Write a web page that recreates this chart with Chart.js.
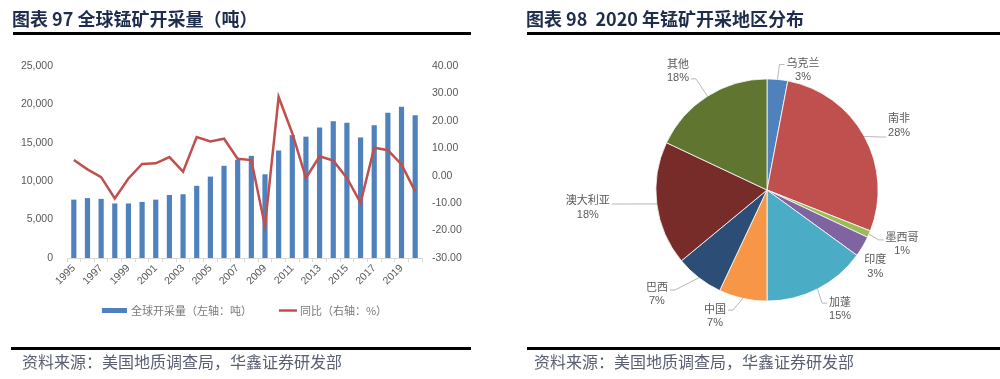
<!DOCTYPE html>
<html><head><meta charset="utf-8">
<script src="https://cdn.jsdelivr.net/npm/chart.js@4.4.1/dist/chart.umd.min.js"></script>
<style>
html,body{margin:0;padding:0;background:#fff;width:1000px;height:379px;overflow:hidden;}
body{position:relative;}
canvas{position:absolute;top:0;}
.title{position:absolute;top:5px;height:26px;line-height:26px;font-family:"Noto Sans CJK SC",sans-serif;font-weight:bold;font-size:18px;color:#1f2d4d;white-space:nowrap;}
.rule{position:absolute;height:3px;background:#000;}
.src{position:absolute;top:351px;height:20px;line-height:20px;font-family:"Noto Sans CJK SC",sans-serif;font-size:16px;color:#5a6072;white-space:nowrap;}
</style></head>
<body>
<canvas id="c1" width="500" height="379" style="left:0"></canvas>
<canvas id="c2" width="500" height="379" style="left:500px"></canvas>
<div class="title" style="left:12px">图表 97 全球锰矿开采量（吨）</div>
<div class="rule" style="left:13px;top:32px;width:458px"></div>
<div class="title" style="left:526px">图表 98&nbsp; 2020 年锰矿开采地区分布</div>
<div class="rule" style="left:527px;top:32px;width:473px"></div>
<div class="rule" style="left:11px;top:347px;width:460px"></div>
<div class="rule" style="left:527px;top:347px;width:473px"></div>
<div class="src" style="left:22px">资料来源：美国地质调查局，华鑫证券研发部</div>
<div class="src" style="left:534px">资料来源：美国地质调查局，华鑫证券研发部</div>
<script>
// ---- data ----
const years = ['1995','1996','1997','1998','1999','2000','2001','2002','2003','2004','2005','2006','2007','2008','2009','2010','2011','2012','2013','2014','2015','2016','2017','2018','2019','2020'];
const production = [7600,7800,7700,7100,7100,7300,7600,8200,8300,9400,10600,12000,12800,13300,10900,14000,16000,15800,17000,17800,17600,15700,17300,18900,19700,18600];
const growth = [5.7,2.3,-0.5,-8.3,-1.0,4.3,4.5,6.8,1.5,14.1,12.5,13.5,6.2,5.7,-18.4,28.7,15.5,-0.8,7.1,5.5,-0.8,-9.9,10.2,9.3,4.1,-5.7];
const leftTicks = {min:0, max:25000, step:5000};
const rightTicks = {min:-30, max:40, step:10};
const seriesNames = ['全球开采量（左轴：吨）','同比（右轴：%）'];

const regions = ['乌克兰','南非','墨西哥','印度','加蓬','中国','巴西','澳大利亚','其他'];
const shares = [3,28,1,3,15,7,7,18,18];

// ---- styles ----
const pieColors = ['#4F81BD','#C0504D','#9BBB59','#8064A2','#4BACC6','#F79646','#2C4D75','#772C2A','#5F7530'];
const axisFont = {family:'"Liberation Sans", Arial, sans-serif', size:10.5};
const tickColor = '#595959';
// label placement (in radius units from pie centre), leader-line anchor offset
const labelLayout = [
  {u:0.324, v:-1.085, dy:-5, leader:true},
  {u:1.189, v:-0.585, dy:12, leader:true},
  {u:1.216, v:0.485, dy:-4, leader:true},
  {u:0.975, v:0.685, dy:0, leader:false},
  {u:0.658, v:1.068, dy:-5.5, leader:true},
  {u:-0.468, v:1.131, dy:-5.5, leader:true},
  {u:-0.991, v:0.932, dy:-3.5, leader:true},
  {u:-1.613, v:0.153, dy:-3, leader:true},
  {u:-0.802, v:-1.077, dy:8.5, leader:true}
];

const legendPlugin = {
  id:'customLegend',
  afterDraw(chart){
    const ctx = chart.ctx, ca = chart.chartArea;
    ctx.save();
    ctx.font = '11px "Noto Sans CJK SC", sans-serif';
    ctx.textBaseline = 'middle';
    const barDs = chart.data.datasets[1], lineDs = chart.data.datasets[0];
    const w1 = ctx.measureText(barDs.label).width, w2 = ctx.measureText(lineDs.label).width;
    const total = 25 + 4 + w1 + 27 + 18 + 3 + w2;
    let x = (ca.left + ca.right)/2 - total/2;
    const y = ca.bottom + 52.5;
    ctx.fillStyle = barDs.backgroundColor;
    ctx.fillRect(x, y-2.5, 25, 5);
    ctx.fillStyle = '#7a7a7a';
    ctx.fillText(barDs.label, x+29, y);
    x += 29 + w1 + 27;
    ctx.strokeStyle = lineDs.borderColor; ctx.lineWidth = 2.5;
    ctx.beginPath(); ctx.moveTo(x, y); ctx.lineTo(x+18, y); ctx.stroke();
    ctx.fillText(lineDs.label, x+21, y);
    ctx.restore();
  }
};

new Chart(document.getElementById('c1'), {
  data:{
    labels: years,
    datasets:[
      {type:'line', label:seriesNames[1], data:growth, yAxisID:'y1', borderColor:'#C0504D', backgroundColor:'#C0504D', borderWidth:2.5, pointRadius:0, tension:0, order:0},
      {type:'bar', label:seriesNames[0], data:production, yAxisID:'y', backgroundColor:'#4F81BD', barPercentage:0.38, categoryPercentage:1, order:1}
    ]
  },
  options:{
    responsive:false, animation:false,
    layout:{padding:{left:0, right:28, top:66, bottom:81}},
    plugins:{legend:{display:false}, tooltip:{enabled:false}},
    scales:{
      x:{offset:true,
         grid:{display:true, drawOnChartArea:false, color:'#D9D9D9', tickLength:4, offset:true},
         border:{color:'#D9D9D9'},
         ticks:{autoSkip:false, maxRotation:45, minRotation:45, color:tickColor, font:axisFont, padding:0,
                callback:function(v,i){ return i%2===0 ? this.getLabelForValue(v) : ''; }},
         afterFit:s=>{s.height=40;}},
      y:{position:'left', min:leftTicks.min, max:leftTicks.max,
         ticks:{stepSize:leftTicks.step, padding:14, color:tickColor, font:axisFont, callback:v=>v.toLocaleString('en-US')},
         grid:{display:false, drawTicks:false}, border:{display:false},
         afterFit:s=>{s.width=67;}},
      y1:{position:'right', min:rightTicks.min, max:rightTicks.max,
         ticks:{stepSize:rightTicks.step, padding:10, color:tickColor, font:axisFont, callback:v=>v.toFixed(2)},
         grid:{display:false, drawTicks:false}, border:{display:false},
         afterFit:s=>{s.width=50;}}
    }
  },
  plugins:[legendPlugin]
});

const pieLabels = {
  id:'pieLabels',
  afterDatasetsDraw(chart){
    const ctx = chart.ctx;
    const meta = chart.getDatasetMeta(0);
    const vals = chart.data.datasets[0].data;
    ctx.save();
    meta.data.forEach((arc,i)=>{
      const p = arc.getProps(['x','y','startAngle','endAngle','outerRadius'], true);
      const R = p.outerRadius, mid = (p.startAngle+p.endAngle)/2;
      const ex = p.x + R*Math.cos(mid), ey = p.y + R*Math.sin(mid);
      const L = labelLayout[i];
      const cx = p.x + R*L.u, cy = p.y + R*L.v;
      const name = chart.data.labels[i], pct = vals[i] + '%';
      ctx.font = '11px "Noto Sans CJK SC", sans-serif';
      const wn = ctx.measureText(name).width;
      ctx.font = '11px "Liberation Sans", Arial, sans-serif';
      const wp = ctx.measureText(pct).width;
      const mw = Math.max(wn, wp);
      if (L.leader){
        const right = cx > ex;
        const nx = right ? cx - mw/2 - 2 : cx + mw/2 + 2;
        const ty = cy + L.dy;
        ctx.strokeStyle = '#A6A6A6'; ctx.lineWidth = 0.8;
        ctx.beginPath(); ctx.moveTo(ex, ey);
        ctx.lineTo(right ? nx-5 : nx+5, ty); ctx.lineTo(nx, ty); ctx.stroke();
      }
      ctx.fillStyle = '#595959'; ctx.textAlign = 'center'; ctx.textBaseline = 'middle';
      ctx.font = '11px "Noto Sans CJK SC", sans-serif';
      ctx.fillText(name, cx, cy - 7);
      ctx.font = '11px "Liberation Sans", Arial, sans-serif';
      ctx.fillText(pct, cx, cy + 7.5);
    });
    ctx.restore();
  }
};

new Chart(document.getElementById('c2'), {
  type:'pie',
  data:{labels:regions, datasets:[{data:shares, backgroundColor:pieColors, borderColor:'#ffffff', borderWidth:0.8}]},
  options:{
    responsive:false, animation:false,
    layout:{padding:{left:155, right:121, top:78.5, bottom:77.5}},
    plugins:{legend:{display:false}, tooltip:{enabled:false}}
  },
  plugins:[pieLabels]
});
</script>
</body></html>
